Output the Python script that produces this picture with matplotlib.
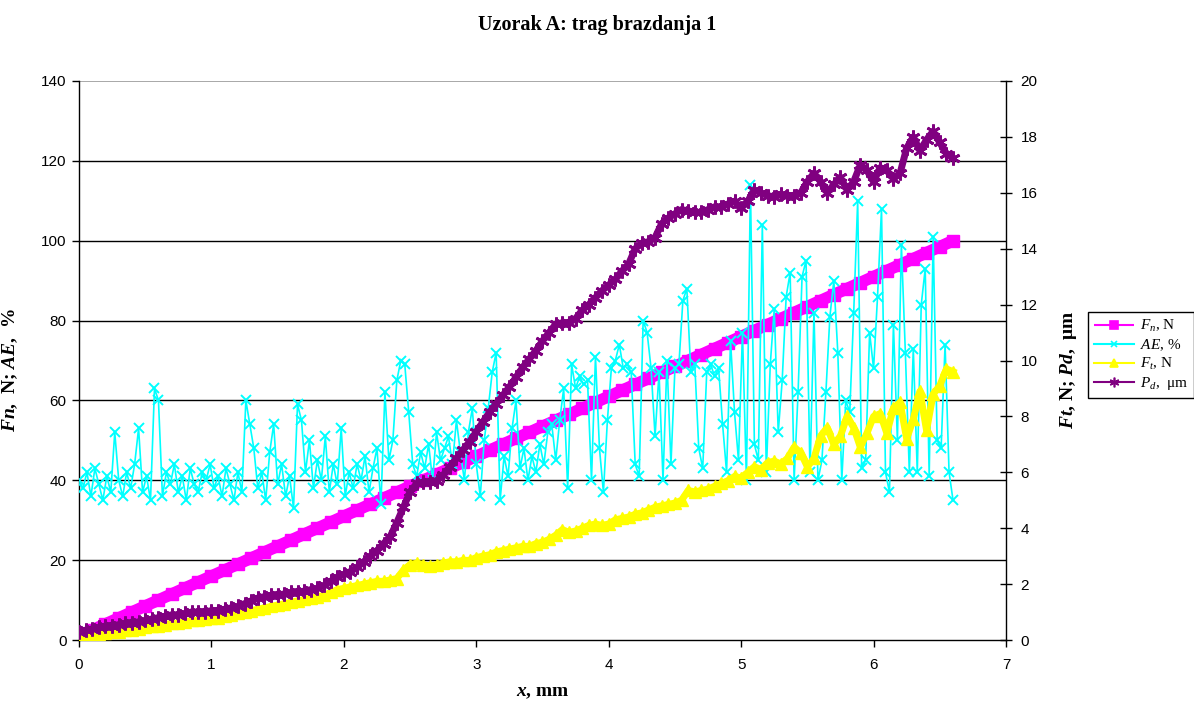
import numpy as np
import matplotlib
matplotlib.use("Agg")
import matplotlib.pyplot as plt

plt.rcParams['mathtext.fontset'] = 'custom'
plt.rcParams['mathtext.rm'] = 'Liberation Serif'
plt.rcParams['mathtext.it'] = 'Liberation Serif:italic'
plt.rcParams['mathtext.bf'] = 'Liberation Serif:bold'
plt.rcParams['mathtext.bfit'] = 'Liberation Serif:italic:bold'

# ---------------- data ----------------
title = "Uzorak A: trag brazdanja 1"

# normal force Fn [N], sampled every 0.1 mm
x_fn = np.round(np.arange(0, 6.61, 0.1), 3)
fn = [1.0, 2.5, 4.0, 5.5, 7.0, 8.5, 10.0, 11.5, 13.0, 14.5,
      16.0, 17.5, 19.0, 20.5, 22.0, 23.5, 25.0, 26.5, 28.0, 29.5,
      31.0, 32.5, 34.0, 35.5, 37.0, 38.5, 40.0, 41.5, 43.0, 44.5,
      46.0, 47.5, 49.0, 50.5, 52.0, 53.5, 55.0, 56.5, 58.0, 59.5,
      61.0, 62.5, 64.0, 65.5, 67.0, 68.5, 70.0, 71.5, 73.0, 74.5,
      76.0, 77.5, 79.0, 80.5, 82.0, 83.5, 85.0, 86.5, 88.0, 89.5,
      91.0, 92.5, 94.0, 95.5, 97.0, 98.5, 100.0]

# acoustic emission AE [%], sampled every 0.03 mm
x_ae = np.round(np.arange(0, 6.601, 0.03), 3)
ae = [40, 38, 42, 36, 43, 39, 35, 41, 37, 52,
      40, 36, 42, 38, 44, 53, 37, 41, 35, 63,
      60, 36, 42, 39, 44, 37, 41, 35, 43, 39,
      37, 42, 40, 44, 38, 41, 36, 43, 39, 35,
      42, 37, 60, 54, 48, 38, 42, 35, 47, 54,
      39, 44, 36, 41, 33, 59, 55, 42, 50, 38,
      45, 40, 51, 37, 44, 39, 53, 36, 42, 38,
      44, 40, 46, 37, 43, 48, 34, 62, 45, 50,
      65, 70, 69, 57, 44, 41, 47, 43, 49, 40,
      52, 45, 48, 51, 44, 55, 47, 40, 52, 58,
      44, 36, 50, 58, 67, 72, 35, 46, 41, 53,
      60, 43, 48, 40, 46, 42, 49, 44, 52, 54,
      45, 55, 63, 38, 69, 63, 66, 64, 65, 40,
      71, 48, 37, 55, 68, 70, 74, 68, 69, 67,
      44, 41, 80, 77, 68, 51, 67, 40, 70, 44,
      68, 69, 85, 88, 67, 69, 48, 43, 67, 69,
      66, 68, 54, 42, 75, 57, 45, 77, 40, 114,
      49, 45, 104, 42, 69, 83, 52, 65, 86, 92,
      40, 62, 91, 95, 42, 82, 40, 45, 62, 81,
      90, 72, 40, 60, 57, 82, 110, 43, 45, 77,
      68, 86, 108, 42, 37, 79, 50, 99, 72, 42,
      73, 42, 84, 93, 41, 101, 50, 48, 74, 42,
      35]

# tangential force Ft [N] and penetration depth Pd [um], every 0.05 mm
x_sec = np.round(np.arange(0, 6.601, 0.05), 3)
ft = [0.05, 0.1, 0.15, 0.2, 0.25, 0.3, 0.3, 0.35, 0.35, 0.4,
      0.45, 0.5, 0.5, 0.55, 0.6, 0.6, 0.65, 0.7, 0.7, 0.75,
      0.8, 0.8, 0.85, 0.9, 0.95, 1.0, 1.05, 1.1, 1.15, 1.2,
      1.25, 1.3, 1.35, 1.4, 1.45, 1.5, 1.55, 1.6, 1.7, 1.8,
      1.85, 1.9, 1.95, 2.0, 2.05, 2.1, 2.1, 2.15, 2.2, 2.5,
      2.7, 2.75, 2.7, 2.65, 2.7, 2.75, 2.8, 2.8, 2.85, 2.85,
      2.95, 3.0, 3.05, 3.15, 3.2, 3.25, 3.3, 3.35, 3.35, 3.45,
      3.5, 3.6, 3.75, 3.95, 3.85, 3.9, 4.0, 4.1, 4.15, 4.1,
      4.15, 4.3, 4.35, 4.4, 4.5, 4.55, 4.65, 4.75, 4.8, 4.85,
      4.9, 5.0, 5.35, 5.3, 5.35, 5.4, 5.5, 5.6, 5.7, 5.85,
      5.8, 6.0, 6.2, 6.1, 6.35, 6.4, 6.3, 6.5, 6.9, 6.7,
      6.2, 6.5, 7.3, 7.6, 7.0, 7.3, 8.0, 7.6, 6.9, 7.4,
      8.0, 8.1, 7.4, 8.3, 8.5, 7.2, 7.9, 8.9, 7.5, 8.8,
      9.1, 9.7, 9.6]
pd_ = [0.3, 0.35, 0.4, 0.45, 0.5, 0.5, 0.55, 0.6, 0.6, 0.65,
       0.7, 0.75, 0.8, 0.85, 0.9, 0.9, 0.95, 1.0, 1.0, 1.0,
       1.05, 1.05, 1.1, 1.15, 1.2, 1.3, 1.4, 1.5, 1.55, 1.6,
       1.6, 1.65, 1.7, 1.7, 1.75, 1.8, 1.85, 1.95, 2.1, 2.25,
       2.35, 2.45, 2.6, 2.8, 3.0, 3.2, 3.45, 3.7, 4.2, 4.75,
       5.3, 5.6, 5.65, 5.65, 5.7, 5.9, 6.2, 6.5, 6.8, 7.1,
       7.45, 7.8, 8.15, 8.45, 8.75, 9.05, 9.4, 9.75, 10.05, 10.35,
       10.7, 11.0, 11.3, 11.35, 11.35, 11.5, 11.8, 12.0, 12.25, 12.5,
       12.7, 12.9, 13.2, 13.45, 14.0, 14.2, 14.25, 14.4, 14.9, 15.1,
       15.25, 15.4, 15.35, 15.3, 15.3, 15.4, 15.5, 15.5, 15.6, 15.7,
       15.45, 15.7, 16.1, 16.0, 15.9, 15.85, 15.95, 15.9, 15.9, 16.0,
       16.4, 16.7, 16.4, 16.0, 16.3, 16.55, 16.1, 16.4, 17.0, 16.8,
       16.4, 16.9, 16.8, 16.5, 16.7, 17.6, 18.0, 17.5, 17.9, 18.2,
       17.8, 17.4, 17.25]

left_ticks = [0, 20, 40, 60, 80, 100, 120, 140]
right_ticks = [0, 2, 4, 6, 8, 10, 12, 14, 16, 18, 20]
x_ticks = [0, 1, 2, 3, 4, 5, 6, 7]

# ---------------- figure ----------------
fig = plt.figure(figsize=(11.94, 7.04), dpi=100)
ax = fig.add_axes([79/1194, 1-640/704, 927/1194, 559/704])
ax2 = ax.twinx()

C_FN, C_AE, C_FT, C_PD = '#FF00FF', '#00FFFF', '#FFFF00', '#800080'

l_fn, = ax.plot(x_fn, fn, color=C_FN, lw=8.5, marker='s', ms=8.5,
                solid_capstyle='butt', zorder=3)
l_ae, = ax.plot(x_ae, ae, color=C_AE, lw=1.2, marker='x', ms=7, mew=1.4,
                zorder=4)
l_ft, = ax2.plot(x_sec, ft, color=C_FT, lw=5, marker='^', ms=8.5, zorder=3)
l_pd, = ax2.plot(x_sec, pd_, color=C_PD, lw=5, marker=(6, 2, 0), ms=10,
                 mew=2, zorder=4)

ax.set_xlim(0, 7)
ax.set_ylim(0, 140)
ax2.set_ylim(0, 20)
ax.set_xticks(x_ticks)
ax.set_yticks(left_ticks)
ax2.set_yticks(right_ticks)

# grid lines at every major left tick
for v in left_ticks[1:-1]:
    ax.axhline(v, color='black', lw=1.0, zorder=1)
ax.axhline(140, color='#999999', lw=1.2, zorder=1)

for a in (ax, ax2):
    a.spines['top'].set_visible(False)
ax.spines['right'].set_visible(False)
ax2.spines['left'].set_visible(False)
ax2.spines['bottom'].set_visible(False)
for s in ('left', 'bottom'):
    ax.spines[s].set_linewidth(1.0)
ax2.spines['right'].set_linewidth(1.0)

ax.tick_params(axis='both', direction='out', length=5, width=1, pad=4)
ax2.tick_params(axis='y', direction='inout', length=9, width=1, pad=6)
for lbl in ax.get_xticklabels() + ax.get_yticklabels() + ax2.get_yticklabels():
    lbl.set_fontfamily('Liberation Sans')
    lbl.set_fontsize(11)
ax.tick_params(axis='x', pad=8)

lab_kw = dict(family='Liberation Serif', weight='bold', size=14)
ax.set_xlabel(r"$\mathbfit{x}$, mm", **lab_kw)
ax.xaxis.set_label_coords(0.5, -0.078)
ax.set_ylabel(r"$\mathbfit{Fn}$,  N; $\mathbfit{AE}$,  %", **lab_kw)
ax.yaxis.set_label_coords(-0.064, 0.483)
ax2.set_ylabel(r"$\mathbfit{Ft}$, N; $\mathbfit{Pd}$,  μm", rotation=90, **lab_kw)
ax2.yaxis.set_label_coords(1.056, 0.483)

fig.text(0.5, 1-25/704, title, ha='center', va='center',
         family='Liberation Serif', weight='bold', size=14.5)

leg = fig.legend([l_fn, l_ae, l_ft, l_pd],
                 [r"$F_n$, N", r"$AE$, %", r"$F_t$, N", r"$P_d$,  μm"],
                 loc='upper left', bbox_to_anchor=(1088/1194, 1-312/704),
                 prop=dict(family='Liberation Serif', size=11),
                 frameon=True, fancybox=False, edgecolor='black',
                 framealpha=1, handlelength=2.6, handletextpad=0.4,
                 borderpad=0.4, labelspacing=0.2, markerscale=0.7,
                 borderaxespad=0)
leg.get_frame().set_linewidth(1.0)
for h in leg.legend_handles:
    h.set_linewidth(1.5)
    h.set_markeredgewidth(1.2)

fig.savefig('out.png', dpi=100)
